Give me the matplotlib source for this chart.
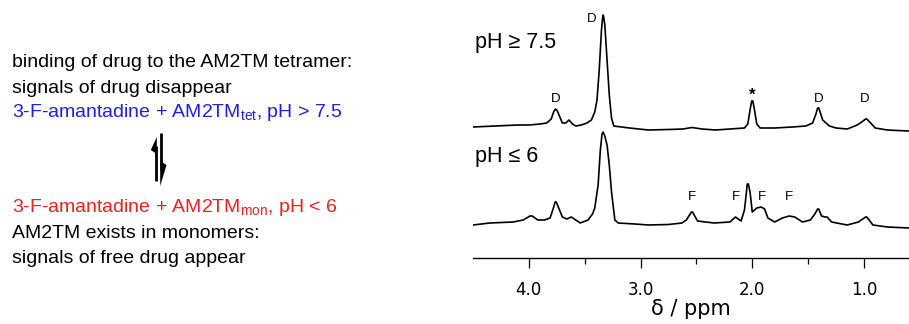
import numpy as np
import matplotlib
matplotlib.use("Agg")
from matplotlib import pyplot as plt
from matplotlib.ticker import FixedLocator

plt.rcParams['font.family'] = ['Liberation Sans', 'DejaVu Sans']
plt.rcParams['mathtext.fontset'] = 'custom'
plt.rcParams['mathtext.rm'] = 'Liberation Sans'

# spectrum pH >= 7.5 (arbitrary intensity)
ppm_high = [4.50, 4.40, 4.30, 4.20, 4.10, 4.00, 3.90, 3.84, 3.80, 3.775, 3.76, 3.745,
            3.73, 3.70, 3.67, 3.64, 3.61, 3.58, 3.53, 3.48, 3.44, 3.41, 3.39, 3.37,
            3.35, 3.34, 3.335, 3.33, 3.32, 3.30, 3.28, 3.26, 3.24, 3.10, 2.93, 2.75,
            2.62, 2.54, 2.45, 2.33, 2.20, 2.07, 2.04, 2.02, 2.005, 1.995, 1.98, 1.96,
            1.93, 1.80, 1.64, 1.52, 1.46, 1.43, 1.415, 1.405, 1.39, 1.37, 1.35, 1.31,
            1.25, 1.15, 1.06, 1.02, 0.985, 0.975, 0.94, 0.90, 0.79, 0.70, 0.60]
int_high = [4, 4.5, 5, 5.5, 6, 6, 7, 8, 12, 20, 22, 20,
            16, 8, 8, 11, 7, 5, 6, 8, 11, 19, 31, 61,
            101, 113, 116, 114, 106, 71, 36, 13, 5, 3, 1, 1.5,
            2, 3.5, 2, 1, 2, 3, 7, 21, 30, 30, 21, 7,
            3, 3, 4, 5, 8, 17, 23, 23, 18, 11, 9, 5,
            3, 2, 6, 9, 12, 12, 8, 3, 1, 0.5, 0]

# spectrum pH <= 6
ppm_low = [4.50, 4.35, 4.14, 4.05, 3.99, 3.97, 3.92, 3.86, 3.81, 3.78, 3.765, 3.755,
           3.74, 3.70, 3.66, 3.62, 3.58, 3.54, 3.47, 3.43, 3.41, 3.38, 3.36, 3.345,
           3.335, 3.32, 3.30, 3.28, 3.26, 3.23, 3.20, 3.05, 2.93, 2.75, 2.63, 2.59,
           2.545, 2.535, 2.49, 2.42, 2.34, 2.20, 2.15, 2.10, 2.07, 2.055, 2.045, 2.035,
           2.02, 2.00, 1.96, 1.92, 1.89, 1.86, 1.80, 1.73, 1.67, 1.62, 1.55, 1.48,
           1.44, 1.415, 1.405, 1.38, 1.35, 1.33, 1.29, 1.15, 1.05, 0.985, 0.975, 0.92,
           0.79, 0.60]
int_low = [4, 6, 7, 9, 13, 13, 9, 9, 11, 21, 27, 27,
           23, 12, 10, 12, 9, 6, 9, 15, 21, 44, 79, 95,
           97, 93, 84, 64, 37, 9, 6, 5, 4, 4.5, 6, 9,
           17, 17, 8, 7, 6, 7, 12, 8, 19, 34, 45, 45,
           37, 17, 21, 22, 20, 11, 7, 11, 13, 12, 7, 9,
           15, 20, 20, 13, 12, 12, 7, 4, 7, 12, 12, 4,
           2, 1]

major_ticks = [4.0, 3.0, 2.0, 1.0]
minor_ticks = [3.5, 2.5, 1.5]
tick_labels = ["4.0", "3.0", "2.0", "1.0"]

d_ppm = [3.436, 3.76, 1.403, 0.991]
star_ppm = [2.003]
f_ppm = [2.54, 2.146, 1.913, 1.672]

W, H = 909, 324
fig = plt.figure(figsize=(W / 100, H / 100), dpi=100)

# overlay for the scheme text on the left
ov = fig.add_axes([0, 0, 1, 1])
ov.set_xlim(0, W)
ov.set_ylim(H, 0)
ov.axis('off')

fs = 14
blue = '#1e1ef0'
red = '#f01e1e'
ov.text(12, 67, "binding of drug to the AM2TM tetramer:", fontsize=fs, va='baseline')
ov.text(12, 93, "signals of drug disappear", fontsize=fs, va='baseline')
ov.text(12, 117, r"3-F-amantadine + AM2T$\mathrm{M}_\mathrm{tet}$, pH > 7.5",
        fontsize=fs, va='baseline', color=blue)
ov.text(12, 212, r"3-F-amantadine + AM2T$\mathrm{M}_\mathrm{mon}$, pH < 6",
        fontsize=fs, va='baseline', color=red)
ov.text(12, 238, "AM2TM exists in monomers:", fontsize=fs, va='baseline')
ov.text(12, 263, "signals of free drug appear", fontsize=fs, va='baseline')

# equilibrium half-arrows
ov.plot([156, 156], [146, 181], color='k', lw=2, solid_capstyle='butt')
ov.fill([156.8, 150.8, 156.8], [137, 150, 154], color='k', lw=0)
ov.plot([161, 161], [133, 170], color='k', lw=2, solid_capstyle='butt')
ov.fill([160.2, 166.5, 160.2], [161, 165, 186], color='k', lw=0)

# spectra
ax = fig.add_axes([473 / W, 66 / H, 436 / W, 258 / H])
ax.patch.set_alpha(0)
ax.plot(ppm_high, np.array(int_high) + 127, color='k', lw=1.2)
ax.plot(ppm_low, np.array(int_low) + 29, color='k', lw=1.2)
ax.set_xlim(4.5, 0.597)
ax.set_ylim(0, 258)

for s in ['left', 'right', 'top']:
    ax.spines[s].set_visible(False)
ax.spines['bottom'].set_linewidth(1.0)
ax.set_yticks([])
ax.set_xticks(major_ticks)
ax.set_xticklabels(tick_labels, fontfamily='DejaVu Sans', fontsize=12)
ax.xaxis.set_minor_locator(FixedLocator(minor_ticks))
ax.tick_params(axis='x', which='major', direction='out', length=7.5, width=0.9, pad=9)
ax.tick_params(axis='x', which='minor', direction='out', length=4, width=0.9)
ax.set_xlabel("δ / ppm", fontfamily='DejaVu Sans', fontsize=15, labelpad=0)

ax.text(0.005, 210, "pH ≥ 7.5", transform=ax.get_yaxis_transform(), fontsize=15.5,
        va='baseline', ha='left')
ax.text(0.005, 96, "pH ≤ 6", transform=ax.get_yaxis_transform(), fontsize=15.5,
        va='baseline', ha='left')

lab_fs = 9.5
ax.text(d_ppm[0], 239, "D", fontsize=lab_fs, ha='center', va='center')
for p in d_ppm[1:]:
    ax.text(p, 159, "D", fontsize=lab_fs, ha='center', va='center')
for p in star_ppm:
    ax.text(p, 163, "*", fontsize=12, ha='center', va='center', fontweight='bold')
for p in f_ppm:
    ax.text(p, 61, "F", fontsize=lab_fs, ha='center', va='center')

fig.savefig("out.png", dpi=100)
